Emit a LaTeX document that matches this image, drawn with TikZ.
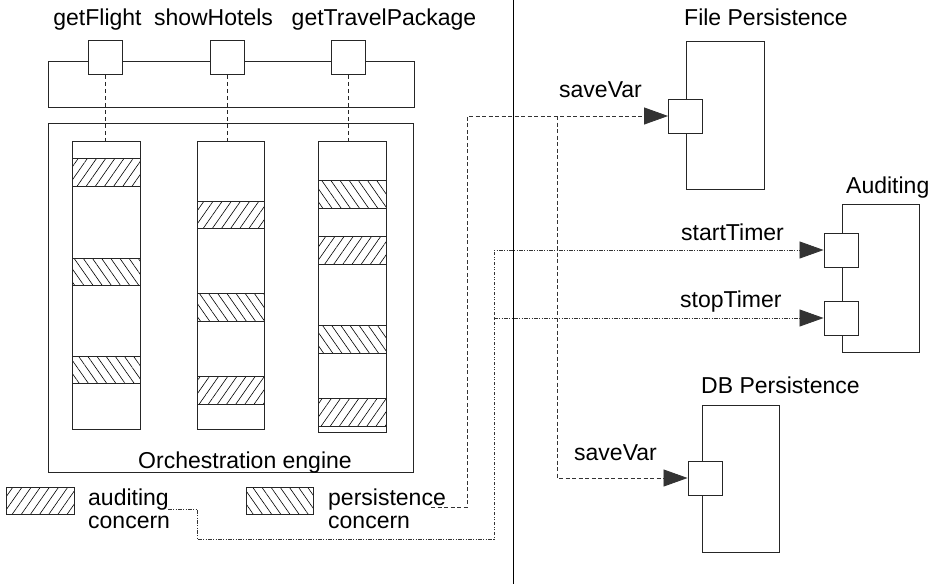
\documentclass[tikz,border=0pt]{standalone}
\usepackage{fontspec}
\setmainfont{Liberation Sans}
\usetikzlibrary{arrows.meta,patterns.meta}
\tikzset{
  base/.style={draw=black!85, line width=0.9pt},
  portbox/.style={base, fill=white, minimum width=34pt, minimum height=34pt, inner sep=0pt},
  lifebox/.style={base, fill=white, minimum width=68pt, inner sep=0pt},
  label/.style={inner sep=0pt, anchor=base west, font=\fontsize{23}{27}\selectfont},
  clabel/.style={inner sep=0pt, anchor=base, font=\fontsize{23}{27}\selectfont},
  audhatch/.style={base, pattern={Lines[angle=55,distance=7.5pt,line width=0.6pt]}},
  perhatch/.style={base, pattern={Lines[angle=-55,distance=7.5pt,line width=0.6pt]}},
  tie/.style={draw=black!85, line width=0.8pt, dash pattern=on 4pt off 3pt},
  perline/.style={draw=black!80, line width=0.8pt, dash pattern=on 4pt off 2.5pt},
  audline/.style={draw=black!80, line width=0.8pt, dash pattern=on 3.5pt off 1.5pt on 1pt off 1.5pt on 1pt off 1.5pt},
  tip/.style={-{Triangle[length=24pt,width=17pt]}}
}
\begin{document}
\begin{tikzpicture}[x=1pt,y=-1pt]
\useasboundingbox (0,0) rectangle (937,584);

% divider
\coordinate (divtop) at (513,0);
\coordinate (divbot) at (513,584);
\draw[line width=0.9pt] (divtop) -- (divbot);

% top bar with operations
\draw[base] (48,61) rectangle (414,107);
\node[portbox] (b1) at (105,57.5) {};
\node[portbox] (b2) at (227,57.5) {};
\node[portbox] (b3) at (348,57.5) {};
\node[clabel] (t1) at (97.5,25) {getFlight};
\node[clabel] (t2) at (213.5,25) {showHotels};
\node[clabel] (t3) at (384,25) {getTravelPackage};

% orchestration engine
\node[base, minimum width=365pt, minimum height=349pt, inner sep=0pt] (orch) at (230.5,297.5) {};
\node[clabel] (orchlab) at (245,468) {Orchestration engine};

% lifelines
\node[lifebox, minimum height=288pt] (l1) at (106,285) {};
\node[lifebox, minimum height=288pt, minimum width=67pt] (l2) at (230.5,285) {};
\node[lifebox, minimum height=291pt] (l3) at (352,286.5) {};

\draw[tie] (b1.south) -- (b1.south |- l1.north);
\draw[tie] (b2.south) -- (b2.south |- l2.north);
\draw[tie] (b3.south) -- (b3.south |- l3.north);

% concerns on lifeline 1
\draw[audhatch] (72,158) rectangle (140,186);
\draw[perhatch] (72,258) rectangle (140,285);
\draw[perhatch] (72,356) rectangle (140,383);
% lifeline 2
\draw[audhatch] (197,201) rectangle (264,228);
\draw[perhatch] (197,293) rectangle (264,321);
\draw[audhatch] (197,376) rectangle (264,404);
% lifeline 3
\draw[perhatch] (318,180) rectangle (386,208);
\draw[audhatch] (318,236) rectangle (386,264);
\draw[perhatch] (318,325) rectangle (386,353);
\draw[audhatch] (318,398) rectangle (386,426);

% legend
\draw[audhatch] (6,487) rectangle (74,514);
\node[label] (leg1a) at (88,505) {auditing};
\node[label] (leg1b) at (88,528) {concern};
\draw[perhatch] (246,487) rectangle (313,514);
\node[label] (leg2a) at (328,505) {persistence};
\node[label] (leg2b) at (328,528) {concern};

% components
\draw[base] (686,41) rectangle (764,189);
\node[label] (fplab) at (684,25) {File Persistence};
\node[portbox] (fport) at (685.5,116) {};
\node[label] (sv1) at (559,97) {saveVar};

\draw[base] (842,204) rectangle (919,352);
\node[label] (audlab) at (846,193) {Auditing};
\node[portbox] (aport1) at (841,250) {};
\node[portbox] (aport2) at (841,318) {};
\node[label] (stlab) at (681,240) {startTimer};
\node[label] (splab) at (680,307) {stopTimer};

\draw[base] (702,405) rectangle (779,552);
\node[label] (dblab) at (701,393) {DB Persistence};
\node[portbox] (dport) at (705,478) {};
\node[label] (sv2) at (574,460) {saveVar};

% persistence connectors
\coordinate (psrc) at (431,507);
\coordinate (pup) at (467,507);
\coordinate (pbr) at (557,116);
\draw[perline, tip] (psrc) -- (pup) -- (pup |- fport.west) -- (fport.west);
\draw[perline, tip] (pbr) -- (pbr |- dport.west) -- (dport.west);

% auditing connectors
\coordinate (asrc) at (168,509);
\coordinate (a1) at (197,509);
\coordinate (a2) at (197,539);
\coordinate (a3) at (494,539);
\draw[audline, tip] (asrc) -- (a1) -- (a2) -- (a3) -- (a3 |- aport1.west) -- (aport1.west);
\draw[audline, tip] (a3 |- aport2.west) -- (aport2.west);
\end{tikzpicture}
\end{document}
